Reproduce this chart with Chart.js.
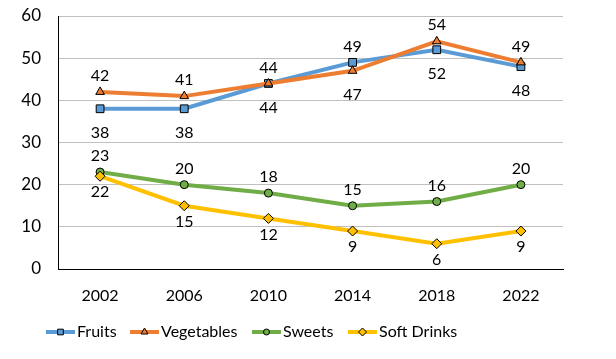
<!DOCTYPE html>
<html>
<head>
<meta charset="utf-8">
<script src="https://cdn.jsdelivr.net/npm/chart.js@4"></script>
<style>
  html, body { margin: 0; padding: 0; background: #fff; }
  #wrap { width: 616px; height: 359px; }
</style>
</head>
<body>
<div id="wrap"><canvas id="foodChart" width="616" height="359"></canvas></div>
<script>
// chart data
const years = ['2002', '2006', '2010', '2014', '2018', '2022'];
const fruits = [38, 38, 44, 49, 52, 48];
const vegetables = [42, 41, 44, 47, 54, 49];
const sweets = [23, 20, 18, 15, 16, 20];
const softDrinks = [22, 15, 12, 9, 6, 9];
const yTicks = [0, 10, 20, 30, 40, 50, 60];

// label placement per point: 'a' above, 'b' below
const fruitsPos = ['b', 'b', 'b', 'a', 'b', 'b'];
const vegPos = ['a', 'a', 'a', 'b', 'a', 'a'];

const FONT = 'Lato, "Open Sans", sans-serif';

function series(label, data, color, style, radius, order, pos, below) {
    return {
        label: label,
        data: data,
        borderColor: color,
        backgroundColor: color,
        borderWidth: 4,
        pointStyle: style,
        pointRadius: radius,
        pointHoverRadius: radius,
        pointBackgroundColor: color,
        pointBorderColor: '#000',
        pointBorderWidth: 1,
        tension: 0,
        order: order,
        labelPos: pos,
        belowOffset: below
    };
}

// value labels next to the points
const valueLabels = {
    id: 'valueLabels',
    afterDatasetsDraw(chart) {
        const ctx = chart.ctx;
        ctx.save();
        ctx.font = '16px ' + FONT;
        ctx.fillStyle = '#000';
        ctx.textAlign = 'center';
        ctx.textBaseline = 'middle';
        chart.data.datasets.forEach((ds, i) => {
            const meta = chart.getDatasetMeta(i);
            meta.data.forEach((pt, j) => {
                const above = ds.labelPos[j] === 'a';
                const dy = above ? -16 : ds.belowOffset;
                ctx.fillText(String(ds.data[j]), pt.x, pt.y + dy);
            });
        });
        ctx.restore();
    }
};

// legend with line + marker, Excel style
const lineLegend = {
    id: 'lineLegend',
    afterDraw(chart) {
        const ctx = chart.ctx;
        const y = 332;
        const starts = [46, 130, 252, 348];
        ctx.save();
        ctx.font = '16px ' + FONT;
        ctx.textBaseline = 'middle';
        ctx.textAlign = 'left';
        chart.data.datasets.forEach((ds, i) => {
            const x = starts[i];
            ctx.strokeStyle = ds.borderColor;
            ctx.lineWidth = 4;
            ctx.beginPath();
            ctx.moveTo(x, y);
            ctx.lineTo(x + 29, y);
            ctx.stroke();
            ctx.fillStyle = ds.pointBackgroundColor;
            ctx.strokeStyle = '#000';
            ctx.lineWidth = 1;
            Chart.helpers.drawPoint(ctx, {
                pointStyle: ds.pointStyle,
                radius: ds.pointStyle === 'circle' ? 3 : 4,
                rotation: 0,
                borderWidth: 1
            }, x + 14.5, y);
            ctx.fillStyle = '#000';
            ctx.fillText(ds.label, x + 31, y);
        });
        ctx.restore();
    }
};

new Chart(document.getElementById('foodChart'), {
    type: 'line',
    data: {
        labels: years,
        datasets: [
            series('Fruits', fruits, '#5B9BD5', 'rect', 5.5, 4, fruitsPos, 24),
            series('Vegetables', vegetables, '#ED7D31', 'triangle', 5, 3, vegPos, 24),
            series('Sweets', sweets, '#70AD47', 'circle', 4, 2, ['a', 'a', 'a', 'a', 'a', 'a'], 16),
            series('Soft Drinks', softDrinks, '#FFC000', 'rectRot', 5, 1, ['b', 'b', 'b', 'b', 'b', 'b'], 16)
        ]
    },
    options: {
        responsive: false,
        animation: false,
        layout: { padding: { top: 16, right: 53, bottom: 50, left: 0 } },
        plugins: {
            legend: { display: false },
            tooltip: { enabled: false }
        },
        scales: {
            x: {
                offset: true,
                grid: { display: false, drawTicks: false },
                border: { display: true, color: '#000', width: 1 },
                ticks: { color: '#000', font: { family: FONT, size: 16 }, padding: 17 },
                afterFit(scale) { scale.height = 40; }
            },
            y: {
                min: 0,
                max: 60,
                afterBuildTicks(scale) { scale.ticks = yTicks.map(v => ({ value: v })); },
                grid: { color: '#BFBFBF', drawTicks: false },
                border: { display: true, color: '#000', width: 1 },
                ticks: { color: '#000', font: { family: FONT, size: 17 }, padding: 17 },
                afterFit(scale) {
                    scale.width = 58;
                    scale.paddingTop = 0;
                    scale.paddingBottom = 0;
                }
            }
        }
    },
    plugins: [valueLabels, lineLegend]
});
</script>
</body>
</html>
